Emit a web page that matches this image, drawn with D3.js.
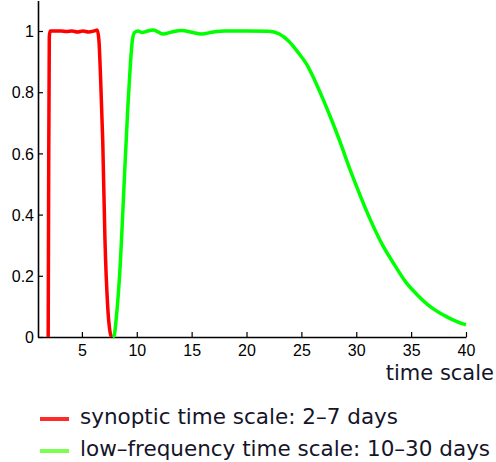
<!DOCTYPE html>
<html>
<head>
<meta charset="utf-8">
<script src="https://cdn.jsdelivr.net/npm/d3@7"></script>
<style>
  body { margin: 0; background: #fff; }
  .tick text { font-family: "Liberation Sans", Arial, sans-serif; font-size: 16px; fill: #000; }
  .label { font-family: "DejaVu Sans", sans-serif; fill: #15152a; }
</style>
</head>
<body>
<svg width="496" height="462"></svg>
<script>
// synoptic band (red) [time scale, value]
const synoptic = [
  [1.93, 0], [1.97, 0.5], [2.03, 0.98], [2.1, 1.0], [2.6, 1.0], [3.1, 1.0], [3.6, 0.998],
  [4.1, 1.0], [4.6, 0.997], [5.1, 1.0], [5.6, 0.997], [6.1, 1.0], [6.4, 1.003],
  [6.55, 0.97], [6.7, 0.85], [6.9, 0.64], [7.1, 0.32], [7.35, 0.1], [7.55, 0.02], [7.7, 0]
];

// low-frequency band (green)
const lowFreq = [
  [7.8, 0], [7.95, 0.005], [8.1, 0.05], [8.45, 0.21], [8.9, 0.54], [9.2, 0.76], [9.4, 0.88],
  [9.6, 0.97], [9.8, 0.995], [10.1, 1.0], [10.5, 0.995], [11.0, 1.0], [11.5, 1.003],
  [12.4, 0.99], [13.2, 0.997], [14.1, 1.002], [15.0, 0.996], [15.9, 0.99], [17.0, 0.997],
  [18, 1.0], [20, 1.0], [22, 0.999], [23, 0.99], [23.9, 0.965], [24.7, 0.93], [25.5, 0.89],
  [26.2, 0.84], [27, 0.775], [27.8, 0.705], [28.5, 0.64], [29.4, 0.55], [30.5, 0.45],
  [31.2, 0.39], [32.4, 0.30], [33.5, 0.235], [34.5, 0.18], [35.5, 0.14], [36.9, 0.095],
  [38.3, 0.065], [39.8, 0.042], [40, 0.04]
];

const xTicks = [5, 10, 15, 20, 25, 30, 35, 40];
const yTicks = [0, 0.2, 0.4, 0.6, 0.8, 1];
const legendLabels = ["synoptic time scale: 2\u20137 days", "low\u2013frequency time scale: 10\u201330 days"];
const colors = ["#ff0000", "#00ff00"];
const legendColors = ["#ff2a2a", "#7aff50"];

const svg = d3.select("svg");

const x = d3.scaleLinear().domain([1, 40]).range([38, 466]);
const y = d3.scaleLinear().domain([0, 1.1]).range([337, 0.4]);

const xAxis = svg.append("g")
  .attr("transform", `translate(0,${y(0)})`)
  .call(d3.axisBottom(x).tickValues(xTicks).tickSizeInner(-5).tickSizeOuter(0).tickPadding(8));

const yAxis = svg.append("g")
  .attr("transform", `translate(${x(1)},0)`)
  .call(d3.axisLeft(y).tickValues(yTicks).tickFormat(d => d === 0 || d === 1 ? d : d.toFixed(1))
    .tickSizeInner(-5).tickSizeOuter(0).tickPadding(4));

svg.selectAll(".domain").attr("stroke", "#000").attr("stroke-width", 1.6);
svg.selectAll(".tick line").attr("stroke", "#000").attr("stroke-width", 1.2);
yAxis.selectAll(".tick text").attr("dy", "0.36em");

const line = d3.line()
  .x(d => x(d[0]))
  .y(d => y(d[1]))
  .curve(d3.curveMonotoneX);

[synoptic, lowFreq].forEach((series, i) => {
  svg.append("path")
    .datum(series)
    .attr("fill", "none")
    .attr("stroke", colors[i])
    .attr("stroke-width", 3.5)
    .attr("stroke-linejoin", "round")
    .attr("d", line);
});

svg.append("text")
  .attr("class", "label")
  .attr("x", 494)
  .attr("y", 380)
  .attr("text-anchor", "end")
  .style("font-size", "21px")
  .text("time scale");

const legend = svg.append("g");
legendLabels.forEach((label, i) => {
  const ly = 419 + i * 32;
  legend.append("line")
    .attr("x1", 40).attr("x2", 69)
    .attr("y1", ly).attr("y2", ly)
    .attr("stroke", legendColors[i])
    .attr("stroke-width", 4);
  legend.append("text")
    .attr("class", "label")
    .attr("x", 80)
    .attr("y", ly + 4.5)
    .style("font-size", "21.5px")
    .text(label);
});
</script>
</body>
</html>
